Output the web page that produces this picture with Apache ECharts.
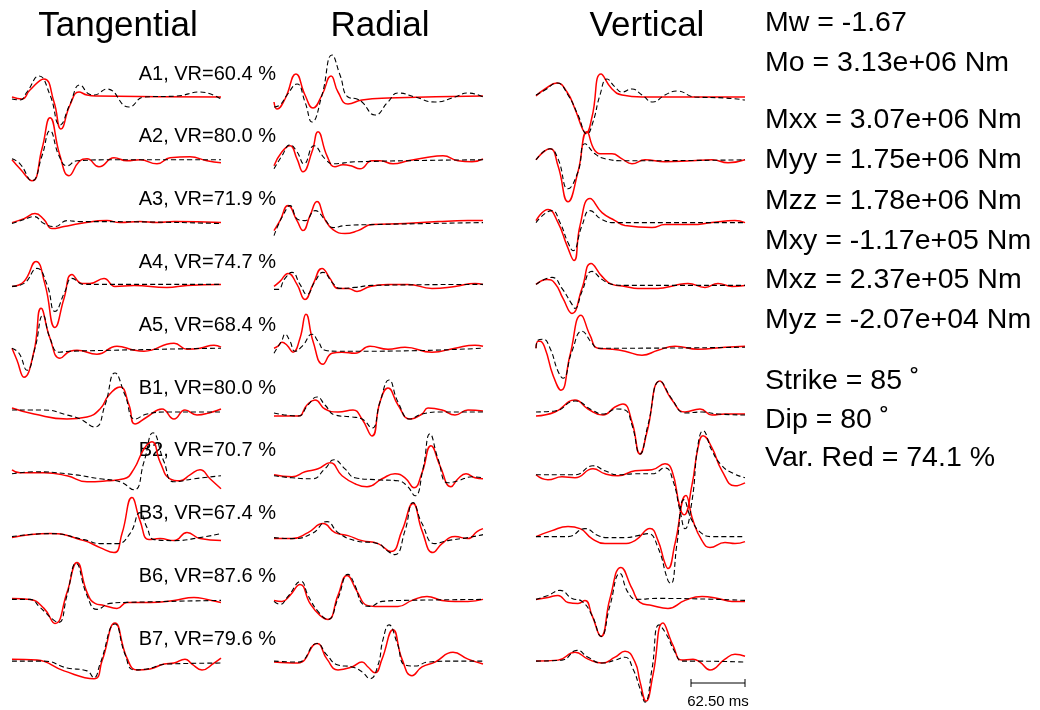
<!DOCTYPE html>
<html>
<head>
<meta charset="utf-8">
<script src="https://cdn.jsdelivr.net/npm/echarts@6/dist/echarts.min.js"></script>
<style>html,body{margin:0;padding:0;background:#fff}#c{width:1040px;height:710px}</style>
</head>
<body>
<div id="c"></div>
<script>
// ---- data (time in samples, amplitude in normalized units) ----
const components = ['Tangential', 'Radial', 'Vertical'];
const stations = ['A1', 'A2', 'A3', 'A4', 'A5', 'B1', 'B2', 'B3', 'B6', 'B7'];
const varRed = ['60.4', '80.0', '71.9', '74.7', '68.4', '80.0', '70.7', '67.4', '87.6', '79.6'];
const sourceInfo = ['Mw = -1.67', 'Mo = 3.13e+06 Nm'];
const tensorInfo = ['Mxx = 3.07e+06 Nm', 'Myy = 1.75e+06 Nm', 'Mzz = 1.78e+06 Nm',
  'Mxy = -1.17e+05 Nm', 'Mxz = 2.37e+05 Nm', 'Myz = -2.07e+04 Nm'];
const mechInfo = ['Strike = 85 \u02DA', 'Dip = 80 \u02DA', 'Var. Red = 74.1 %'];
const scaleBarLabel = '62.50 ms';

const tanObs = [
  [[0,-2],[8,-3],[15,5],[27,21],[38,2],[48,-28],[58,-7],[68,12],[77,3],[82,2],[95,8],[117,-10],[132,0],[165,1],[188,5],[209,-2]],
  [[0,1],[8,-4],[20,-21],[30,4],[38,29],[47,4],[55,-6],[65,-1],[100,0],[209,0]],
  [[0,-1],[12,3],[22,6],[32,-1],[43,-4],[55,2],[68,1],[88,1],[209,-1]],
  [[0,-1],[12,2],[25,17],[35,1],[43,-26],[53,-6],[60,7],[72,1],[88,1],[209,1]],
  [[0,0],[7,-5],[15,-22],[23,0],[31,33],[38,10],[47,-4],[58,-3],[209,0]],
  [[0,1],[32,1],[55,-4],[68,-8],[83,-16],[93,6],[103,38],[113,16],[123,-8],[135,-3],[155,-1],[209,-1]],
  [[0,0],[22,2],[55,0],[88,-5],[108,-8],[122,-16],[132,12],[141,41],[152,12],[162,-8],[182,-5],[209,-2]],
  [[0,0],[38,3],[72,-3],[88,-7],[105,-7],[118,3],[128,24],[135,9],[142,-3],[162,-4],[188,-1],[209,3]],
  [[0,0],[18,0],[28,-8],[42,-21],[47,-23],[55,4],[64,36],[75,4],[85,-10],[98,-4],[115,-3],[209,-1]],
  [[0,0],[32,0],[55,-7],[75,-10],[82,-17],[88,-3],[103,38],[113,7],[122,-9],[135,-8],[155,-3],[209,-2]]
];
const tanSyn = [
  [[0,0],[10,-2],[18,7],[32,18],[42,-5],[49,-32],[58,-8],[67,5],[75,2],[85,1],[209,0]],
  [[0,0],[8,-9],[20,-21],[30,11],[38,42],[48,4],[57,-16],[67,-2],[75,1],[87,-7],[102,2],[115,-1],[128,0],[145,-4],[158,2],[178,3],[195,-1],[209,-3]],
  [[0,0],[12,4],[23,9],[32,3],[40,-6],[52,-4],[68,-1],[95,2],[108,0],[128,1],[145,0],[162,1],[209,0]],
  [[0,-1],[12,4],[24,24],[33,1],[43,-42],[52,-13],[60,11],[70,2],[78,2],[92,7],[103,-1],[122,0],[155,-2],[175,0],[209,1]],
  [[0,0],[5,-12],[12,-29],[22,-3],[29,40],[38,10],[48,-10],[58,-3],[65,-2],[85,-6],[105,2],[122,-2],[132,-3],[162,5],[175,-1],[188,0],[202,3],[209,1]],
  [[0,3],[22,-3],[55,-8],[75,-6],[88,2],[97,16],[108,24],[117,6],[123,-13],[135,-6],[150,2],[162,-8],[173,1],[185,-4],[197,-2],[209,2]],
  [[0,4],[8,1],[32,1],[55,-2],[75,-8],[95,-7],[112,-5],[122,5],[132,25],[140,32],[148,12],[158,-5],[168,-7],[178,-1],[188,4],[198,-5],[209,-15]],
  [[0,-1],[38,3],[72,-4],[88,-11],[102,-16],[110,3],[120,39],[128,16],[137,-3],[148,-2],[162,-4],[175,4],[188,-2],[209,-4]],
  [[0,1],[18,0],[32,-9],[43,-24],[55,7],[65,37],[75,7],[83,-4],[92,-6],[105,-9],[115,-3],[138,-3],[162,-1],[182,2],[195,0],[209,-3]],
  [[0,2],[25,1],[52,-10],[82,-18],[90,0],[103,39],[115,3],[125,-9],[138,-8],[152,-3],[162,-2],[173,2],[180,-3],[190,-9],[202,-2],[209,3]]
];
const radObs = [
  [[0,-10],[6,-8],[13,2],[23,13],[31,-5],[38,-25],[48,2],[58,42],[66,22],[74,0],[83,-2],[88,-5],[101,-18],[114,-5],[124,4],[141,0],[161,-5],[181,0],[194,4],[209,0]],
  [[0,-9],[8,4],[16,15],[23,8],[30,-4],[40,14],[51,1],[59,-4],[81,-2],[209,0]],
  [[0,-13],[4,-3],[9,7],[16,17],[24,3],[31,2],[41,12],[51,3],[59,-5],[71,-3],[98,-2],[209,0]],
  [[0,-4],[4,-4],[11,7],[18,13],[26,1],[33,-9],[41,4],[49,13],[59,2],[66,-3],[81,-2],[98,0],[209,1]],
  [[0,-5],[3,0],[8,8],[11,14],[16,7],[21,-3],[29,3],[38,14],[44,7],[51,-2],[64,-3],[98,-3],[209,0]],
  [[0,-2],[24,-5],[34,6],[43,14],[51,6],[61,-4],[78,-6],[88,-8],[98,-17],[106,9],[115,31],[124,9],[136,-8],[148,-3],[168,-1],[209,-1]],
  [[0,-2],[18,-4],[38,-5],[51,5],[60,14],[71,5],[81,-4],[104,-6],[124,-7],[133,-12],[141,-22],[149,5],[156,40],[164,15],[174,-9],[184,-7],[198,-3],[209,-4]],
  [[0,-1],[18,-2],[38,3],[53,15],[64,4],[81,-4],[104,-7],[113,-14],[121,-18],[131,6],[139,34],[148,13],[161,-7],[174,-4],[194,-1],[209,2]],
  [[0,-2],[6,-5],[14,3],[27,18],[34,4],[44,-12],[54,-20],[64,1],[74,25],[81,14],[88,-4],[96,-7],[108,-2],[131,-1],[209,0]],
  [[0,0],[24,-1],[43,18],[53,6],[64,-4],[78,-6],[88,-11],[96,-18],[104,-4],[109,22],[115,37],[123,19],[131,-4],[141,-5],[154,-1],[181,0],[209,0]]
];
const radSyn = [
  [[0,-5],[3,-12],[11,-2],[22,23],[31,2],[39,-11],[48,2],[57,21],[64,5],[74,-7],[88,-3],[114,-1],[209,1]],
  [[0,-6],[8,8],[16,14],[23,1],[29,-12],[38,8],[44,28],[53,4],[61,-7],[69,-5],[77,-6],[86,-9],[98,-1],[106,-1],[119,-4],[134,-1],[151,2],[169,4],[184,-1],[198,-2],[209,1]],
  [[0,-8],[6,2],[14,17],[23,2],[29,-8],[36,7],[43,21],[51,3],[59,-7],[71,-11],[84,-8],[98,-2],[131,-1],[164,1],[194,2],[209,2]],
  [[0,-1],[6,4],[14,12],[23,1],[31,-14],[39,1],[48,17],[56,7],[64,-3],[74,-3],[83,-6],[96,-1],[114,1],[134,1],[158,-3],[181,-1],[201,2],[209,1]],
  [[0,0],[4,2],[8,6],[13,3],[19,-4],[26,10],[32,34],[39,7],[49,-16],[58,-5],[68,-4],[81,-5],[96,2],[114,-1],[131,1],[158,-4],[181,0],[201,3],[209,2]],
  [[0,-5],[24,-5],[33,6],[41,11],[51,2],[64,-1],[79,1],[88,-8],[98,-25],[106,9],[114,23],[124,6],[136,-8],[148,-3],[154,3],[168,1],[181,-4],[194,1],[209,0]],
  [[0,-1],[18,-3],[31,2],[44,5],[56,11],[68,-2],[81,-10],[93,-13],[108,-5],[121,0],[131,-4],[140,-14],[148,1],[157,28],[166,8],[177,-13],[184,-5],[192,0],[201,-4],[209,-5]],
  [[0,-2],[18,-2],[34,4],[49,13],[61,4],[74,1],[88,-4],[104,-7],[117,-15],[128,6],[139,33],[148,6],[159,-16],[168,-7],[181,0],[194,-2],[203,5],[209,8]],
  [[0,-1],[8,-2],[16,4],[26,15],[36,-4],[46,-16],[54,-20],[64,4],[73,24],[83,8],[93,-6],[101,-7],[114,-7],[124,-7],[138,-1],[153,3],[168,-1],[181,-2],[194,-2],[209,0]],
  [[0,-1],[24,-2],[43,18],[53,2],[64,-9],[78,-6],[88,-1],[94,-6],[101,-12],[108,2],[119,32],[128,2],[138,-15],[148,-6],[161,-1],[179,9],[194,2],[209,-3]]
];
const verObs = [
  [[0,2],[9,7],[21,14],[32,2],[42,-18],[51,-37],[57,-25],[64,2],[71,18],[79,10],[86,5],[96,8],[106,2],[117,-5],[129,2],[141,6],[159,0],[189,-1],[209,-3]],
  [[0,0],[14,11],[22,1],[32,-29],[42,-12],[49,16],[59,6],[69,1],[89,-1],[209,0]],
  [[0,0],[16,12],[24,0],[32,-20],[37,-28],[46,-3],[54,12],[66,3],[79,0],[209,0]],
  [[0,1],[16,8],[26,-3],[36,-19],[39,-23],[46,-6],[56,14],[66,6],[76,1],[89,0],[209,0]],
  [[0,0],[2,8],[7,9],[14,0],[22,-23],[27,-30],[36,-3],[46,17],[56,5],[62,0],[89,0],[209,1]],
  [[0,-1],[19,0],[39,10],[56,1],[67,-3],[81,2],[89,1],[96,-14],[104,-43],[112,-14],[124,30],[136,12],[149,-2],[166,-1],[182,-3],[209,-4]],
  [[0,-1],[39,-1],[57,8],[69,3],[82,-1],[99,0],[116,0],[129,6],[137,-7],[144,-37],[149,-55],[156,-27],[162,29],[167,43],[176,23],[186,8],[196,1],[209,-4]],
  [[0,0],[32,0],[49,8],[62,1],[72,-1],[89,-1],[102,1],[112,3],[122,-11],[132,-44],[135,-47],[141,-7],[148,37],[156,16],[166,3],[176,0],[209,0]],
  [[0,0],[12,4],[24,9],[36,1],[46,-2],[56,-16],[65,-37],[74,-6],[84,26],[92,7],[101,0],[122,1],[209,-1]],
  [[0,0],[26,1],[41,11],[52,4],[66,-2],[79,1],[89,4],[97,-8],[104,-28],[109,-42],[116,-8],[123,37],[130,28],[139,9],[146,0],[156,0],[209,-1]]
];
const verSyn = [
  [[0,1],[9,8],[21,14],[31,5],[39,-12],[47,-33],[50,-36],[56,-20],[65,23],[76,8],[86,2],[106,0],[209,0]],
  [[0,0],[14,11],[22,-6],[32,-42],[42,-12],[51,28],[59,9],[67,6],[76,6],[86,1],[96,-4],[109,0],[129,-2],[156,-1],[176,0],[192,-3],[209,0]],
  [[0,2],[12,13],[22,0],[31,-23],[38,-38],[44,-3],[54,24],[66,10],[79,2],[89,-3],[116,-5],[129,-2],[156,-2],[176,0],[199,2],[209,0]],
  [[0,1],[11,6],[19,2],[27,-13],[36,-28],[46,-3],[55,22],[66,9],[76,1],[89,-1],[102,-3],[122,-3],[139,0],[152,2],[169,-2],[182,2],[196,-1],[209,0]],
  [[0,0],[2,7],[4,7],[9,0],[17,-27],[25,-42],[34,-7],[45,33],[54,13],[62,0],[76,-1],[89,-3],[106,-7],[122,-2],[139,2],[162,-1],[189,1],[209,2]],
  [[0,-5],[19,-1],[39,11],[52,2],[67,-4],[79,4],[87,7],[96,-11],[104,-43],[111,-21],[124,30],[136,11],[149,-1],[164,2],[176,-4],[189,-3],[209,-3]],
  [[0,-1],[12,-6],[26,-3],[39,-4],[57,5],[69,0],[82,-2],[99,3],[116,4],[129,10],[136,3],[144,-34],[148,-41],[156,-11],[162,26],[167,38],[176,26],[186,3],[199,-12],[209,-9]],
  [[0,0],[16,6],[32,10],[44,8],[56,-2],[69,-7],[86,-7],[99,-4],[114,8],[122,-4],[129,-27],[132,-32],[139,-7],[150,41],[157,16],[166,-4],[174,-11],[189,-6],[199,-7],[209,-5]],
  [[0,0],[12,2],[22,4],[32,-3],[42,-4],[49,-1],[56,-16],[65,-37],[74,1],[85,32],[96,11],[104,-3],[116,-6],[132,-9],[149,-1],[166,3],[182,1],[196,-2],[209,-2]],
  [[0,0],[22,1],[39,9],[52,2],[66,-2],[79,4],[89,10],[99,-1],[104,-21],[110,-41],[117,-14],[127,39],[137,16],[146,1],[157,2],[164,-1],[174,-9],[189,2],[199,7],[209,5]]
];

// ---- layout ----
const observed = [tanObs, radObs, verObs];
const synthetic = [tanSyn, radSyn, verSyn];
const colLeft = [12, 274, 536];
const colCenter = [118, 380, 647];
const traceWidth = 209;
const firstBaseline = 97;
const rowStep = 62.8;
const halfH = 50;
const FONT = '"Liberation Sans", Arial, Helvetica, sans-serif';

const grids = [], xAxes = [], yAxes = [], series = [], graphics = [];
components.forEach((comp, ci) => {
  graphics.push({type: 'text', style: {x: colCenter[ci], y: 26, text: comp, textAlign: 'center', textVerticalAlign: 'middle',
    font: '35px ' + FONT, fill: '#000'}});
  stations.forEach((st, si) => {
    const gi = grids.length;
    const base = firstBaseline + si * rowStep;
    grids.push({left: colLeft[ci], top: base - halfH, width: traceWidth, height: 2 * halfH});
    xAxes.push({gridIndex: gi, type: 'value', min: 0, max: traceWidth, show: false});
    yAxes.push({gridIndex: gi, type: 'value', min: -halfH, max: halfH, show: false});
    series.push({type: 'line', xAxisIndex: gi, yAxisIndex: gi, data: synthetic[ci][si], smooth: 0.5,
      symbol: 'none', clip: false, silent: true, z: 2, lineStyle: {color: '#ff0000', width: 1.5}});
    series.push({type: 'line', xAxisIndex: gi, yAxisIndex: gi, data: observed[ci][si], smooth: 0.5,
      symbol: 'none', clip: false, silent: true, z: 3, lineStyle: {color: '#000000', width: 1.1, type: [5, 3]}});
    if (ci === 0) {
      graphics.push({type: 'text', style: {x: 276, y: base - 23, text: st + ', VR=' + varRed[si] + ' %',
        textAlign: 'right', textVerticalAlign: 'middle', font: '20px ' + FONT, fill: '#000'}});
    }
  });
});

const rightLines = [
  [sourceInfo[0], 23], [sourceInfo[1], 63],
  [tensorInfo[0], 120], [tensorInfo[1], 160], [tensorInfo[2], 201],
  [tensorInfo[3], 241], [tensorInfo[4], 280], [tensorInfo[5], 320],
  [mechInfo[0], 381], [mechInfo[1], 420], [mechInfo[2], 458]
];
rightLines.forEach(([t, y]) => {
  graphics.push({type: 'text', style: {x: 765, y: y, text: t, textAlign: 'left', textVerticalAlign: 'middle',
    font: '28.5px ' + FONT, fill: '#000'}});
});
// scale bar
graphics.push({type: 'line', shape: {x1: 691, y1: 683, x2: 745, y2: 683}, style: {stroke: '#000', lineWidth: 1}});
graphics.push({type: 'line', shape: {x1: 691, y1: 679, x2: 691, y2: 687}, style: {stroke: '#000', lineWidth: 1}});
graphics.push({type: 'line', shape: {x1: 745, y1: 679, x2: 745, y2: 687}, style: {stroke: '#000', lineWidth: 1}});
graphics.push({type: 'text', style: {x: 718, y: 702, text: scaleBarLabel, textAlign: 'center', textVerticalAlign: 'middle',
  font: '15px ' + FONT, fill: '#000'}});

const chart = echarts.init(document.getElementById('c'), null, {renderer: 'canvas'});
chart.setOption({
  animation: false,
  backgroundColor: '#ffffff',
  grid: grids, xAxis: xAxes, yAxis: yAxes, series: series,
  graphic: graphics
});
</script>
</body>
</html>
